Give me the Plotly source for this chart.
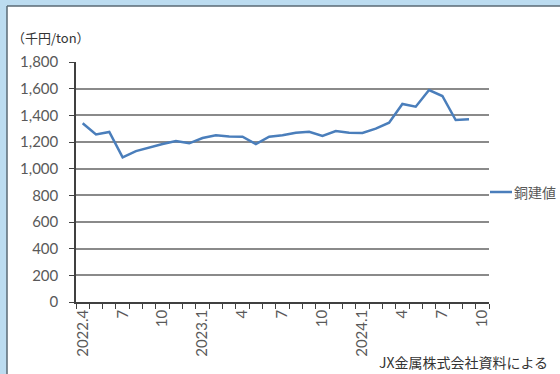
import plotly.graph_objects as go

# Monthly copper price (thousand yen per ton), 2022.4 – 2024.10
months = [
    "2022.4", "2022.5", "2022.6", "2022.7", "2022.8", "2022.9", "2022.10", "2022.11", "2022.12",
    "2023.1", "2023.2", "2023.3", "2023.4", "2023.5", "2023.6", "2023.7", "2023.8", "2023.9",
    "2023.10", "2023.11", "2023.12", "2024.1", "2024.2", "2024.3", "2024.4", "2024.5", "2024.6",
    "2024.7", "2024.8", "2024.9", "2024.10",
]
copper_price = [
    1340, 1257, 1275, 1085, 1132, 1160, 1185, 1207, 1190,
    1230, 1250, 1242, 1240, 1185, 1240, 1250, 1270, 1277,
    1245, 1282, 1270, 1268, 1300, 1345, 1485, 1465, 1590,
    1545, 1365, 1370, None,
]
series_name = "銅建値"


def month_label(m, first):
    year, mon = m.split(".")
    if first or mon == "1":
        return m
    return mon if mon in ("4", "7", "10") else ""


tick_text = [month_label(m, i == 0) for i, m in enumerate(months)]

FONT = "Lato, 'Noto Sans CJK JP', sans-serif"
JP = "'Noto Sans CJK JP', sans-serif"
GREY = "#595959"
LINE = "#4a7ebb"

# plot area in pixels: x 76–489, y 62–302
PW, PH = 413, 240


def px(x):
    return (x - 76) / PW


def py(y):
    return (302 - y) / PH


fig = go.Figure()
fig.add_trace(go.Scatter(
    x=months, y=copper_price, mode="lines", name=series_name,
    line=dict(color=LINE, width=2.5), connectgaps=False, showlegend=False,
))

fig.update_layout(
    width=560, height=374,
    margin=dict(l=76, r=71, t=62, b=72, autoexpand=False),
    paper_bgcolor="white", plot_bgcolor="white",
    font=dict(family=FONT, color=GREY, size=14),
    xaxis=dict(
        type="category", range=[-0.5, 30.5],
        tickvals=months, ticktext=tick_text, tickangle=-90,
        tickson="boundaries", ticks="outside", ticklen=5, tickcolor="#404040",
        showgrid=False, showline=True, linecolor="#404040", linewidth=1.5,
        tickfont=dict(size=15, color=GREY, family=FONT),
    ),
    yaxis=dict(
        range=[0, 1800], dtick=200, tickformat=",",
        ticks="outside", ticklen=5, tickcolor="#404040",
        showline=True, linecolor="#404040", linewidth=1.5,
        gridcolor="#8a8a8a", gridwidth=1.5, zeroline=False,
        tickfont=dict(size=15, color=GREY, family=FONT),
        ticklabelstandoff=8,
    ),
    shapes=[
        # light blue frame along the top and left edges
        dict(type="rect", xref="paper", yref="paper", x0=px(0), x1=px(560),
             y0=py(6), y1=py(0), fillcolor="#bcdcf0", line_width=0, layer="below"),
        dict(type="rect", xref="paper", yref="paper", x0=px(0), x1=px(7),
             y0=py(374), y1=py(0), fillcolor="#bcdcf0", line_width=0, layer="below"),
        dict(type="line", xref="paper", yref="paper", x0=px(7), x1=px(560),
             y0=py(6), y1=py(6), line=dict(color="#5a6a74", width=1.5)),
        dict(type="line", xref="paper", yref="paper", x0=px(7), x1=px(7),
             y0=py(374), y1=py(6), line=dict(color="#5a6a74", width=1.5)),
        # legend key
        dict(type="line", xref="paper", yref="paper", x0=px(490), x1=px(512),
             y0=py(192), y1=py(192), line=dict(color=LINE, width=2.5)),
    ],
    annotations=[
        dict(text="（千円/ton）", xref="paper", yref="paper", x=px(10), y=py(38),
             xanchor="left", yanchor="middle", showarrow=False,
             font=dict(family=JP, size=13, color="#333333")),
        dict(text=series_name, xref="paper", yref="paper", x=px(512), y=py(192),
             xanchor="left", yanchor="middle", showarrow=False,
             font=dict(family=JP, size=14, color=GREY)),
        dict(text="JX金属株式会社資料による", xref="paper", yref="paper", x=px(550), y=py(362),
             xanchor="right", yanchor="middle", showarrow=False,
             font=dict(family=JP, size=14, color="#333333")),
    ],
)

fig.write_html("out.html")
